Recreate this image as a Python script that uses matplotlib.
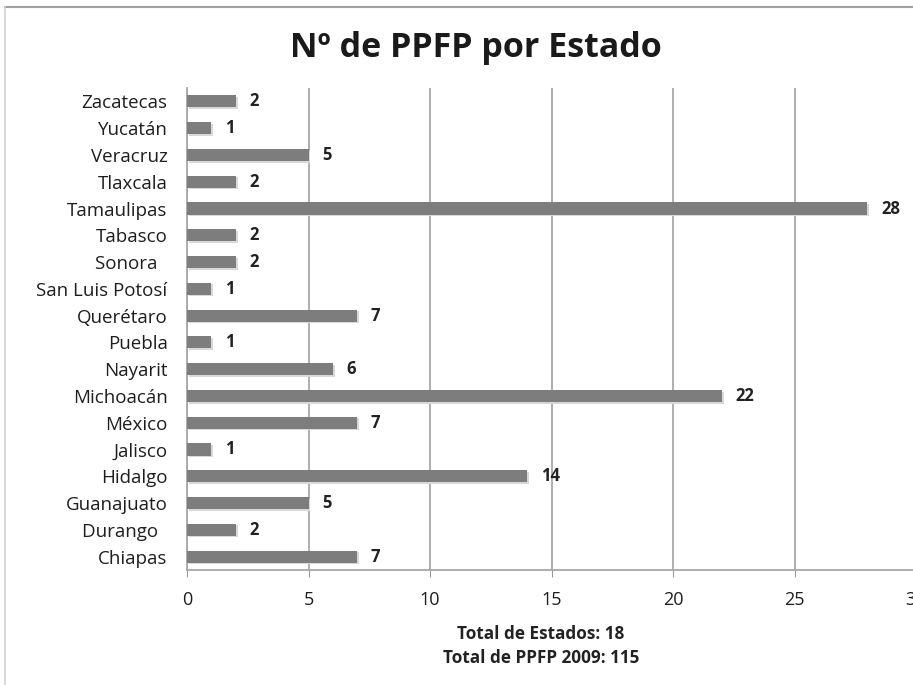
import numpy as np
import matplotlib
matplotlib.use('Agg')
import matplotlib.pyplot as plt

# data, top to bottom as in the picture
estados = ['Zacatecas', 'Yucatán', 'Veracruz', 'Tlaxcala', 'Tamaulipas', 'Tabasco',
           'Sonora  ', 'San Luis Potosí', 'Querétaro', 'Puebla', 'Nayarit', 'Michoacán',
           'México', 'Jalisco', 'Hidalgo', 'Guanajuato', 'Durango  ', 'Chiapas']
ppfp = [2, 1, 5, 2, 28, 2, 2, 1, 7, 1, 6, 22, 7, 1, 14, 5, 2, 7]
xticks = [0, 5, 10, 15, 20, 25, 30]

plt.rcParams['font.family'] = ['Open Sans', 'DejaVu Sans']

fig = plt.figure(figsize=(9.13, 6.85), dpi=100)
W, H = 913, 685

# outer frame (top and left edges visible)
fig.add_artist(plt.Line2D([5 / W, 1], [1 - 7 / H, 1 - 7 / H], color='#a0a0a0', lw=1.5, transform=fig.transFigure))
fig.add_artist(plt.Line2D([5 / W, 5 / W], [0, 1 - 7 / H], color='#d0d0d0', lw=1.2, transform=fig.transFigure))

ax = fig.add_axes([187 / W, 1 - 570 / H, (916 - 187) / W, (570 - 88) / H])

y = np.arange(len(estados))
# soft shadow then bar
ax.barh(y + 0.06, ppfp, height=0.45, left=0.08, color='#d8d8d8', zorder=2)
ax.barh(y, ppfp, height=0.45, color='#7d7d7d', zorder=3)

for yi, v in zip(y, ppfp):
    ax.annotate(str(v), (v, yi), xytext=(10, 0), textcoords='offset points',
                va='center', ha='left', fontsize=12, fontweight='bold', color='#222222')

ax.set_xlim(0, 30)
ax.set_ylim(len(estados) - 0.5, -0.5)
ax.set_yticks(y)
ax.set_yticklabels(estados, fontsize=13.5, color='#1e1e1e')
ax.set_xticks(xticks)
ax.set_xticklabels([str(t) for t in xticks], fontsize=13, color='#1e1e1e')
ax.tick_params(axis='y', length=0, pad=14)
ax.tick_params(axis='x', length=5, direction='out', color='#999999', pad=10)

ax.grid(axis='x', color='#a8a8a8', lw=1.3, zorder=0)
ax.set_axisbelow(True)
for s in ['top', 'right']:
    ax.spines[s].set_visible(False)
for s in ['left', 'bottom']:
    ax.spines[s].set_color('#a8a8a8')
    ax.spines[s].set_linewidth(1.3)

fig.text(476 / W, 1 - 48 / H, 'Nº de PPFP por Estado', ha='center', va='center',
         fontsize=24.5, fontweight='bold', color='#1a1a1a')
fig.text(541 / W, 1 - 634 / H, 'Total de Estados: 18', ha='center', va='center',
         fontsize=12.3, fontweight='bold', color='#222222')
fig.text(541 / W, 1 - 658 / H, 'Total de PPFP 2009: 115', ha='center', va='center',
         fontsize=12.3, fontweight='bold', color='#222222')

fig.savefig('out.png', dpi=100)
